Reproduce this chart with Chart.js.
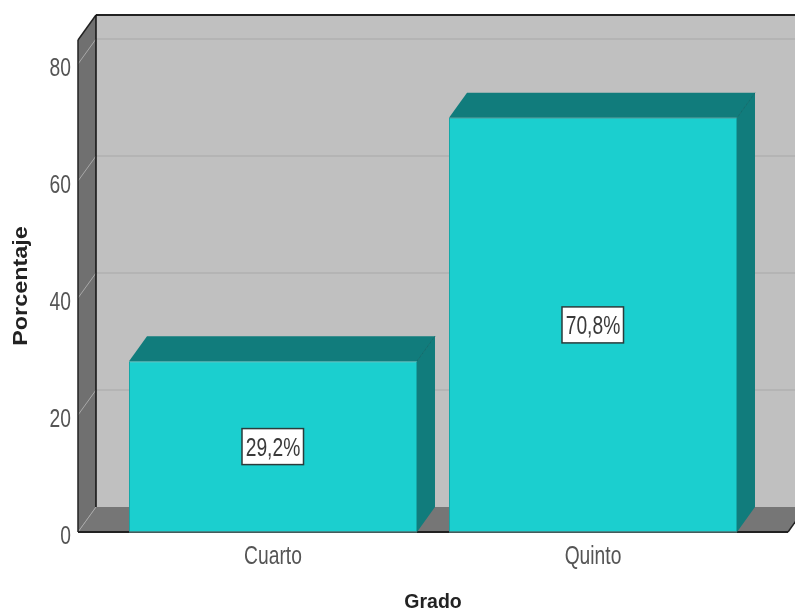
<!DOCTYPE html>
<html>
<head>
<meta charset="utf-8">
<title>Grado</title>
<script src="https://cdn.jsdelivr.net/npm/chart.js@4"></script>
<style>
  html, body { margin: 0; padding: 0; background: #fff; }
  canvas { display: block; }
</style>
</head>
<body>
<canvas id="gradoChart" width="795" height="611"></canvas>
<script>
const categories = ['Cuarto', 'Quinto'];
const percentages = [29.2, 70.8];
const yTicks = [0, 20, 40, 60, 80];
const xTitle = 'Grado';
const yTitle = 'Porcentaje';

const sans = "'Liberation Sans', sans-serif";

// 3D look of the box, in pixels
const depthX = 18;
const depthY = 25;
const sideGap = 35; // floor sticks out this far either side of the category band
const squeeze = 0.77; // the original labels are condensed, no narrow font installed

function poly(ctx, pts, fill) {
    ctx.beginPath();
    pts.forEach((p, i) => i ? ctx.lineTo(p[0], p[1]) : ctx.moveTo(p[0], p[1]));
    ctx.closePath();
    ctx.fillStyle = fill;
    ctx.fill();
}

function line(ctx, x1, y1, x2, y2, color, width) {
    ctx.beginPath();
    ctx.moveTo(x1, y1);
    ctx.lineTo(x2, y2);
    ctx.strokeStyle = color;
    ctx.lineWidth = width;
    ctx.stroke();
}

function narrowText(ctx, text, x, y, align, color) {
    ctx.save();
    ctx.translate(x, y);
    ctx.scale(squeeze, 1);
    ctx.font = '25px ' + sans;
    ctx.fillStyle = color;
    ctx.textAlign = align;
    ctx.textBaseline = 'middle';
    ctx.fillText(text, 0, 0);
    ctx.restore();
}

const boxPlugin = {
    id: 'box3d',
    beforeDraw(chart) {
        const { ctx, chartArea, scales } = chart;
        const l = chartArea.left - sideGap;
        const r = chartArea.right + sideGap;
        const t = chartArea.top;
        const b = chartArea.bottom;
        ctx.save();
        // back wall, left wall, floor
        poly(ctx, [[l + depthX, t - depthY], [r + depthX, t - depthY], [r + depthX, b - depthY], [l + depthX, b - depthY]], '#c0c0c0');
        poly(ctx, [[l, t], [l + depthX, t - depthY], [l + depthX, b - depthY], [l, b]], '#707070');
        poly(ctx, [[l, b], [l + depthX, b - depthY], [r + depthX, b - depthY], [r, b]], '#767676');
        // grid runs across the left wall and along the back
        yTicks.forEach(v => {
            const y = scales.y.getPixelForValue(v);
            line(ctx, l, y, l + depthX, y - depthY, '#a8a8a8', 1);
            if (v > 0) line(ctx, l + depthX, y - depthY, r + depthX, y - depthY, '#b0b0b0', 1.5);
        });
        // frame
        line(ctx, l + depthX, t - depthY, r + depthX, t - depthY, '#222', 2);
        line(ctx, l, t, l + depthX, t - depthY, '#222', 1.5);
        line(ctx, l, t, l, b, '#222', 1.5);
        line(ctx, l + depthX, t - depthY, l + depthX, b - depthY, '#111', 1.5);
        line(ctx, l, b, r, b, '#222', 2);
        line(ctx, r, b, r + depthX, b - depthY, '#222', 1.5);
        ctx.restore();
    },
    beforeDatasetsDraw(chart) {
        const ctx = chart.ctx;
        ctx.save();
        chart.getDatasetMeta(0).data.forEach(bar => {
            const left = bar.x - bar.width / 2;
            const right = bar.x + bar.width / 2;
            // top face and right face
            poly(ctx, [[left, bar.y], [left + depthX, bar.y - depthY], [right + depthX, bar.y - depthY], [right, bar.y]], '#117c7c');
            poly(ctx, [[right, bar.y], [right + depthX, bar.y - depthY], [right + depthX, bar.base - depthY], [right, bar.base]], '#117c7c');
            line(ctx, right, bar.y, right + depthX, bar.y - depthY, '#0f6e6e', 1);
        });
        ctx.restore();
    },
    afterDatasetsDraw(chart) {
        const { ctx, chartArea, scales } = chart;
        ctx.save();
        // axis line is visible under the bars as a thin grey edge
        chart.getDatasetMeta(0).data.forEach(bar => {
            line(ctx, bar.x - bar.width / 2, bar.base, bar.x + bar.width / 2, bar.base, '#4f6f6f', 1.5);
        });
        // value boxes in the middle of each bar
        chart.getDatasetMeta(0).data.forEach((bar, i) => {
            const text = percentages[i].toFixed(1).replace('.', ',') + '%';
            const cy = (bar.y + bar.base) / 2;
            ctx.fillStyle = '#fff';
            ctx.fillRect(bar.x - 31, cy - 18, 61.5, 36);
            ctx.strokeStyle = '#2b3b3b';
            ctx.lineWidth = 1.5;
            ctx.strokeRect(bar.x - 31, cy - 18, 61.5, 36);
            narrowText(ctx, text, bar.x, cy + 2.5, 'center', '#3a3a3a');
        });
        // tick labels, condensed
        scales.y.ticks.forEach(t => {
            narrowText(ctx, String(t.value), chartArea.left - 42, scales.y.getPixelForValue(t.value) + 5, 'right', '#555');
        });
        categories.forEach((c, i) => {
            narrowText(ctx, c, scales.x.getPixelForValue(i), chartArea.bottom + 25, 'center', '#555');
        });
        // y title is stretched along its length in the original
        ctx.translate(21, (chartArea.top + chartArea.bottom) / 2);
        ctx.rotate(-Math.PI / 2);
        ctx.scale(1.14, 1);
        ctx.font = 'bold 20.5px ' + sans;
        ctx.fillStyle = '#222';
        ctx.textAlign = 'center';
        ctx.textBaseline = 'middle';
        ctx.fillText(yTitle, 0, 0);
        ctx.restore();
    }
};

new Chart(document.getElementById('gradoChart'), {
    type: 'bar',
    data: {
        labels: categories,
        datasets: [{
            data: percentages,
            backgroundColor: '#1bcfcf',
            borderColor: '#14a8a8',
            borderWidth: 1,
            categoryPercentage: 0.9,
            barPercentage: 1
        }]
    },
    plugins: [boxPlugin],
    options: {
        responsive: false,
        animation: false,
        layout: { padding: { top: 40, right: 42, left: 0, bottom: 0 } },
        plugins: { legend: { display: false }, tooltip: { enabled: false } },
        scales: {
            x: {
                grid: { display: false, drawTicks: false },
                border: { display: false },
                ticks: { display: false },
                title: { display: true, text: xTitle, color: '#222', font: { family: sans, size: 19.5, weight: 'bold', lineHeight: 0.9 }, padding: { top: 0, bottom: 0 } },
                afterFit(scale) { scale.height = 79; }
            },
            y: {
                min: 0,
                max: 84.1,
                grid: { display: false, drawTicks: false },
                border: { display: false },
                afterBuildTicks(scale) { scale.ticks = yTicks.map(v => ({ value: v })); },
                ticks: { display: false },
                title: { display: false },
                afterFit(scale) { scale.width = 113; }
            }
        }
    }
});
</script>
</body>
</html>
